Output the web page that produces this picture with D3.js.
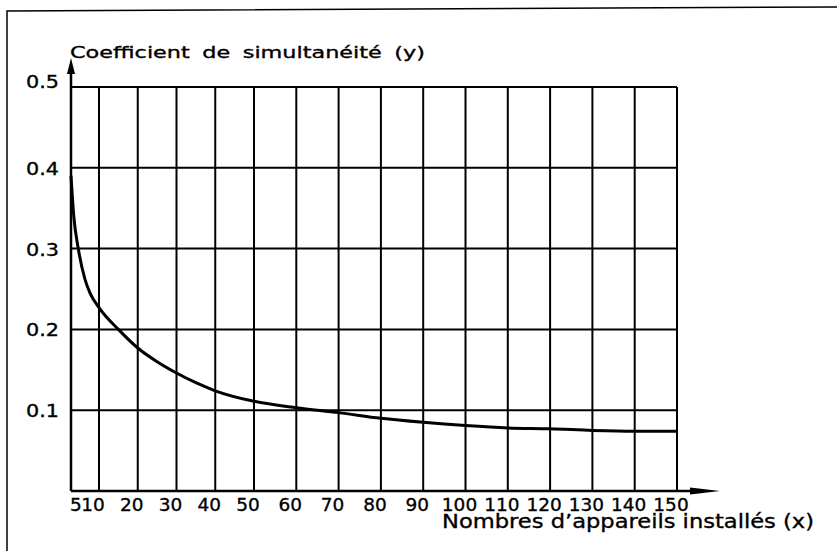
<!DOCTYPE html>
<html>
<head>
<meta charset="utf-8">
<script src="https://cdn.jsdelivr.net/npm/d3@7"></script>
<style>
  html, body { margin: 0; padding: 0; background: #fff; }
  svg { display: block; }
  text { font-family: "DejaVu Sans", sans-serif; fill: #000; stroke: #000; stroke-width: 0.35px; }
</style>
</head>
<body>
<svg id="chart" width="837" height="551"></svg>
<script>
// ---- data ----
const xTicks = [5, 10, 20, 30, 40, 50, 60, 70, 80, 90, 100, 110, 120, 130, 140, 150];
const yTicks = [0.1, 0.2, 0.3, 0.4, 0.5];
const curveX = [5, 5.5, 6.3, 7.5, 8.4, 10, 15, 20, 25, 30, 35, 40, 50, 60, 70, 80, 90, 100, 110, 120, 130, 140, 150];
const curveY = [0.39, 0.34, 0.30, 0.262, 0.245, 0.227, 0.200, 0.177, 0.160, 0.146, 0.134, 0.124, 0.111, 0.103, 0.097, 0.090, 0.085, 0.081, 0.078, 0.077, 0.075, 0.074, 0.074];
const yTitle = "Coefficient de simultanéité (y)";
const xTitle = "Nombres d’appareils installés (x)";

// ---- layout ----
const svg = d3.select("#chart");
const mLeft = 71, mRight = 677, mTop = 87, mBottom = 491;
const W = mRight - mLeft;

// the hand-drawn axis is not uniform: 5→10 is short, and 10→50 is tighter than 50→150
const x = d3.scaleLinear()
  .domain([5, 10, 50, 150])
  .range([mLeft, mLeft + W * 28 / 606, mLeft + W * 183 / 606, mRight]);
const y = d3.scaleLinear().domain([0, 0.5]).range([mBottom, mTop]);

// outer frame (scanned page border)
svg.append("path")
  .attr("d", d3.line()([[7, 551], [7, 11], [837, 7]]))
  .attr("fill", "none").attr("stroke", "#000").attr("stroke-width", 1.5);

// grid: horizontal
svg.append("g").selectAll("line").data(yTicks).join("line")
  .attr("x1", x(5)).attr("x2", x(150))
  .attr("y1", d => y(d)).attr("y2", d => y(d))
  .attr("stroke", "#000").attr("stroke-width", 2);

// grid: vertical
svg.append("g").selectAll("line").data(xTicks.filter(d => d > 5)).join("line")
  .attr("x1", d => x(d)).attr("x2", d => x(d))
  .attr("y1", y(0)).attr("y2", y(0.5))
  .attr("stroke", "#000").attr("stroke-width", 2);

// axes with arrows
svg.append("line")
  .attr("x1", x(5)).attr("x2", x(5)).attr("y1", y(0)).attr("y2", y(0.5) - 16)
  .attr("stroke", "#000").attr("stroke-width", 2.5);
svg.append("path")
  .attr("d", `M${x(5)},${y(0.5) - 29} L${x(5) - 4},${y(0.5) - 13} L${x(5) + 4},${y(0.5) - 13} Z`)
  .attr("fill", "#000");

svg.append("line")
  .attr("x1", x(5)).attr("x2", x(150) + 20).attr("y1", y(0)).attr("y2", y(0))
  .attr("stroke", "#000").attr("stroke-width", 2.5);
svg.append("path")
  .attr("d", `M${x(150) + 43},${y(0)} L${x(150) + 13},${y(0) - 3.5} L${x(150) + 13},${y(0) + 3.5} Z`)
  .attr("fill", "#000");

// curve
const pts = curveX.map((d, i) => [d, curveY[i]]);
svg.append("path")
  .datum(pts)
  .attr("fill", "none").attr("stroke", "#000").attr("stroke-width", 3)
  .attr("stroke-linejoin", "round")
  .attr("d", d3.line().x(d => x(d[0])).y(d => y(d[1])).curve(d3.curveMonotoneX));

// y tick labels
svg.append("g").selectAll("text").data(yTicks).join("text")
  .attr("x", x(5) - 45)
  .attr("y", d => y(d) + (d === 0.5 ? 1 : 7))
  .attr("font-size", 18)
  .attr("textLength", 33).attr("lengthAdjust", "spacingAndGlyphs")
  .text(d => d.toFixed(1));

// x tick labels
svg.append("g").selectAll("text").data(xTicks).join("text")
  .attr("x", d => d === 5 ? x(d) + 5 : x(d) - 6)
  .attr("y", y(0) + 20)
  .attr("text-anchor", "middle")
  .attr("font-size", 18.5)
  .text(d => d);

// titles
svg.append("text")
  .attr("x", x(5) - 1).attr("y", 58)
  .attr("font-size", 16.5)
  .attr("textLength", 355).attr("lengthAdjust", "spacingAndGlyphs")
  .attr("word-spacing", 4)
  .text(yTitle);

svg.append("text")
  .attr("x", 442).attr("y", 528)
  .attr("font-size", 19)
  .attr("textLength", 372).attr("lengthAdjust", "spacingAndGlyphs")
  .text(xTitle);
</script>
</body>
</html>
